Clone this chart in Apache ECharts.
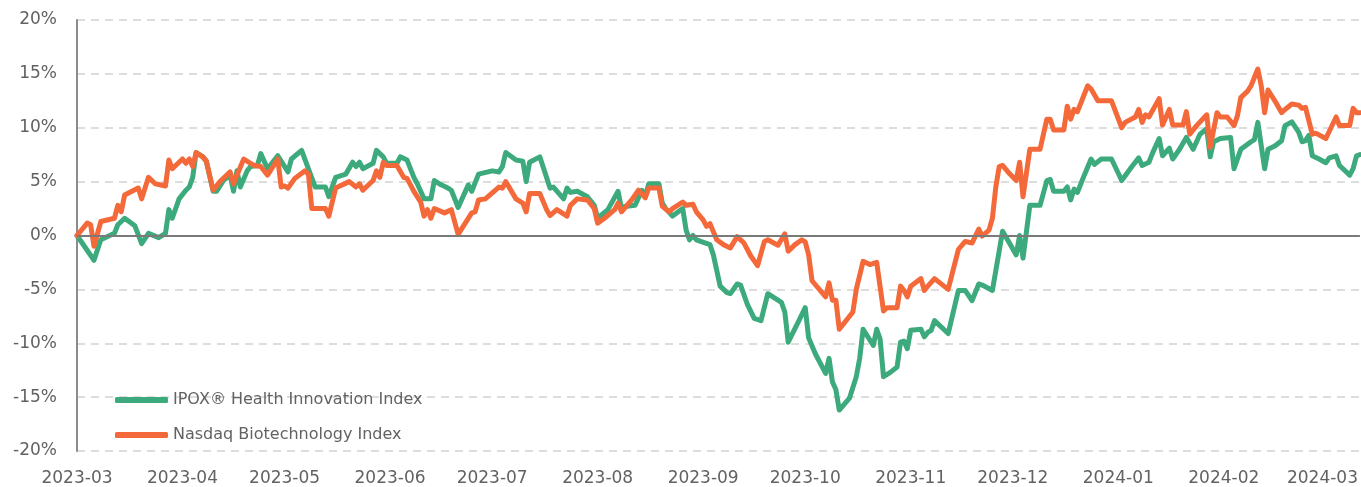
<!DOCTYPE html>
<html>
<head>
<meta charset="utf-8">
<script src="https://cdn.jsdelivr.net/npm/echarts@6/dist/echarts.min.js"></script>
<style>
  html, body { margin: 0; padding: 0; background: #fff; }
  #chart { width: 1361px; height: 487px; }
</style>
</head>
<body>
<div id="chart"></div>
<script>
// IPOX Health Innovation Index (percent change since 2023-03-01)
const ipoxDates = [
  '2023-03-01','2023-03-06','2023-03-08','2023-03-12','2023-03-13','2023-03-15','2023-03-18','2023-03-20','2023-03-22','2023-03-25',
  '2023-03-27','2023-03-28','2023-03-29','2023-03-31','2023-04-02','2023-04-03','2023-04-04','2023-04-05','2023-04-07','2023-04-08',
  '2023-04-10','2023-04-11','2023-04-13','2023-04-15','2023-04-16','2023-04-17','2023-04-18','2023-04-20','2023-04-21','2023-04-23',
  '2023-04-24','2023-04-26','2023-04-29','2023-05-02','2023-05-03','2023-05-06','2023-05-10','2023-05-13','2023-05-14','2023-05-16',
  '2023-05-19','2023-05-21','2023-05-22','2023-05-23','2023-05-24','2023-05-27','2023-05-28','2023-05-30','2023-05-31','2023-06-03',
  '2023-06-04','2023-06-06','2023-06-08','2023-06-09','2023-06-11','2023-06-13','2023-06-14','2023-06-16','2023-06-18','2023-06-19',
  '2023-06-21','2023-06-24','2023-06-25','2023-06-27','2023-07-01','2023-07-03','2023-07-04','2023-07-05','2023-07-08','2023-07-10',
  '2023-07-11','2023-07-12','2023-07-15','2023-07-18','2023-07-19','2023-07-22','2023-07-23','2023-07-24','2023-07-26','2023-07-29',
  '2023-07-31','2023-08-01','2023-08-04','2023-08-07','2023-08-08','2023-08-09','2023-08-12','2023-08-14','2023-08-15','2023-08-16',
  '2023-08-19','2023-08-20','2023-08-21','2023-08-23','2023-08-26','2023-08-27','2023-08-28','2023-08-29','2023-08-30','2023-09-03',
  '2023-09-04','2023-09-06','2023-09-08','2023-09-09','2023-09-11','2023-09-12','2023-09-14','2023-09-16','2023-09-18','2023-09-20',
  '2023-09-24','2023-09-25','2023-09-26','2023-09-29','2023-10-01','2023-10-02','2023-10-04','2023-10-07','2023-10-08','2023-10-09',
  '2023-10-10','2023-10-11','2023-10-14','2023-10-16','2023-10-17','2023-10-18','2023-10-21','2023-10-22','2023-10-23','2023-10-24',
  '2023-10-26','2023-10-28','2023-10-29','2023-10-30','2023-10-31','2023-11-01','2023-11-04','2023-11-05','2023-11-06','2023-11-07',
  '2023-11-08','2023-11-12','2023-11-15','2023-11-17','2023-11-19','2023-11-21','2023-11-22','2023-11-25','2023-11-28','2023-11-30',
  '2023-12-02','2023-12-03','2023-12-04','2023-12-06','2023-12-09','2023-12-11','2023-12-12','2023-12-13','2023-12-16','2023-12-17',
  '2023-12-18','2023-12-19','2023-12-20','2023-12-22','2023-12-24','2023-12-25','2023-12-27','2023-12-30','2024-01-02','2024-01-05',
  '2024-01-07','2024-01-08','2024-01-10','2024-01-11','2024-01-13','2024-01-14','2024-01-16','2024-01-17','2024-01-19','2024-01-21',
  '2024-01-23','2024-01-25','2024-01-27','2024-01-28','2024-01-29','2024-01-31','2024-02-03','2024-02-04','2024-02-06','2024-02-09',
  '2024-02-10','2024-02-11','2024-02-13','2024-02-14','2024-02-16','2024-02-18','2024-02-19','2024-02-21','2024-02-23','2024-02-24',
  '2024-02-25','2024-02-26','2024-02-27','2024-02-29','2024-03-02','2024-03-03','2024-03-05','2024-03-06','2024-03-09','2024-03-10',
  '2024-03-11','2024-03-12'
];
const ipoxValues = [
  0, -2.3, -0.4, 0.2, 1.0, 1.6, 0.9, -0.75, 0.2, -0.2,
  0.2, 2.4, 1.6, 3.4, 4.2, 4.5, 5.4, 7.7, 7.3, 6.9,
  4.1, 4.1, 5.1, 5.6, 4.1, 6.0, 4.5, 6.0, 6.4, 6.5,
  7.6, 6.2, 7.4, 5.9, 7.1, 7.9, 4.5, 4.5, 3.6, 5.4,
  5.7, 6.8, 6.4, 6.8, 6.2, 6.7, 7.9, 7.3, 6.7, 6.7,
  7.3, 7.0, 5.4, 4.8, 3.4, 3.4, 5.1, 4.7, 4.4, 4.2,
  2.6, 4.7, 4.1, 5.7, 6.0, 5.9, 6.4, 7.7, 7.0, 6.9,
  5.0, 6.8, 7.3, 4.4, 4.5, 3.4, 4.4, 4.0, 4.1, 3.6,
  2.8, 1.6, 2.4, 4.1, 2.5, 2.7, 2.8, 4.2, 3.6, 4.8,
  4.8, 3.0, 2.5, 1.8, 2.5, 0.5, -0.4, 0, -0.4, -0.85,
  -1.8, -4.7, -5.3, -5.4, -4.5, -4.6, -6.4, -7.7, -7.9, -5.4,
  -6.2, -7.1, -9.9, -8.0, -6.7, -9.5, -11.0, -12.8, -11.4, -13.6,
  -14.3, -16.2, -15.1, -13.1, -11.4, -8.7, -10.2, -8.7, -9.6, -13.1,
  -12.7, -12.2, -9.9, -9.8, -10.5, -8.8, -8.7, -9.4, -9.0, -8.8,
  -7.9, -9.1, -5.1, -5.1, -6.05, -4.5, -4.6, -5.1, 0.4, -0.7,
  -1.8, 0, -2.1, 2.8, 2.8, 5.1, 5.2, 4.1, 4.1, 4.5,
  3.3, 4.3, 4.0, 5.6, 7.1, 6.6, 7.1, 7.1, 5.1, 6.4,
  7.2, 6.5, 6.8, 7.6, 9.0, 7.4, 8.1, 7.1, 8.0, 9.1,
  8.0, 9.4, 9.9, 7.3, 8.7, 9.0, 9.1, 6.2, 8.0, 8.7,
  8.9, 10.5, 6.2, 8.0, 8.3, 8.8, 10.2, 10.55, 9.6, 8.7,
  8.8, 9.3, 7.4, 7.1, 6.75, 7.2, 7.4, 6.5, 5.6, 6.2,
  7.4, 7.5
];

// Nasdaq Biotechnology Index (percent change since 2023-03-01)
const nbiDates = [
  '2023-03-01','2023-03-04','2023-03-05','2023-03-06','2023-03-08','2023-03-12','2023-03-13','2023-03-14','2023-03-15','2023-03-19',
  '2023-03-20','2023-03-22','2023-03-24','2023-03-27','2023-03-28','2023-03-29','2023-04-01','2023-04-02','2023-04-03','2023-04-04',
  '2023-04-05','2023-04-07','2023-04-08','2023-04-10','2023-04-12','2023-04-15','2023-04-16','2023-04-17','2023-04-19','2023-04-21',
  '2023-04-22','2023-04-24','2023-04-26','2023-04-29','2023-04-30','2023-05-01','2023-05-02','2023-05-04','2023-05-07','2023-05-08',
  '2023-05-09','2023-05-13','2023-05-14','2023-05-16','2023-05-20','2023-05-22','2023-05-23','2023-05-24','2023-05-27','2023-05-28',
  '2023-05-29','2023-05-30','2023-05-31','2023-06-03','2023-06-05','2023-06-06','2023-06-08','2023-06-10','2023-06-11','2023-06-12',
  '2023-06-13','2023-06-14','2023-06-17','2023-06-19','2023-06-21','2023-06-25','2023-06-26','2023-06-27','2023-06-29','2023-07-03',
  '2023-07-04','2023-07-05','2023-07-08','2023-07-10','2023-07-11','2023-07-12','2023-07-15','2023-07-17','2023-07-18','2023-07-20',
  '2023-07-23','2023-07-24','2023-07-26','2023-07-29','2023-07-31','2023-08-01','2023-08-03','2023-08-06','2023-08-07','2023-08-08',
  '2023-08-11','2023-08-13','2023-08-15','2023-08-16','2023-08-19','2023-08-20','2023-08-22','2023-08-23','2023-08-26','2023-08-27',
  '2023-08-29','2023-08-30','2023-09-01','2023-09-02','2023-09-03','2023-09-05','2023-09-07','2023-09-09','2023-09-11','2023-09-13',
  '2023-09-15','2023-09-17','2023-09-19','2023-09-20','2023-09-23','2023-09-25','2023-09-26','2023-09-28','2023-09-30','2023-10-01',
  '2023-10-02','2023-10-03','2023-10-07','2023-10-08','2023-10-09','2023-10-10','2023-10-11','2023-10-15','2023-10-16','2023-10-18',
  '2023-10-20','2023-10-22','2023-10-24','2023-10-25','2023-10-28','2023-10-29','2023-10-30','2023-10-31','2023-11-01','2023-11-04',
  '2023-11-05','2023-11-06','2023-11-08','2023-11-12','2023-11-15','2023-11-17','2023-11-19','2023-11-21','2023-11-22','2023-11-24',
  '2023-11-25','2023-11-26','2023-11-27','2023-11-28','2023-11-30','2023-12-02','2023-12-03','2023-12-04','2023-12-06','2023-12-09',
  '2023-12-11','2023-12-12','2023-12-13','2023-12-16','2023-12-17','2023-12-18','2023-12-19','2023-12-20','2023-12-23','2023-12-24',
  '2023-12-26','2023-12-30','2024-01-02','2024-01-03','2024-01-06','2024-01-07','2024-01-08','2024-01-09','2024-01-10','2024-01-13',
  '2024-01-14','2024-01-16','2024-01-17','2024-01-20','2024-01-21','2024-01-22','2024-01-24','2024-01-27','2024-01-28','2024-01-30',
  '2024-01-31','2024-02-02','2024-02-04','2024-02-05','2024-02-06','2024-02-08','2024-02-09','2024-02-11','2024-02-12','2024-02-13',
  '2024-02-14','2024-02-16','2024-02-18','2024-02-19','2024-02-21','2024-02-23','2024-02-24','2024-02-25','2024-02-27','2024-02-28',
  '2024-03-02','2024-03-05','2024-03-06','2024-03-09','2024-03-10','2024-03-11','2024-03-12'
];
const nbiValues = [
  0, 1.15, 1.0, -1.0, 1.3, 1.6, 2.8, 2.2, 3.75, 4.4,
  3.4, 5.4, 4.8, 4.6, 7.0, 6.2, 7.1, 6.7, 7.1, 6.4,
  7.7, 7.3, 6.9, 4.2, 5.0, 5.9, 4.8, 5.6, 7.1, 6.7,
  6.5, 6.4, 5.6, 7.1, 4.5, 4.6, 4.4, 5.3, 6.0, 5.7,
  2.5, 2.5, 1.8, 4.4, 5.0, 4.5, 4.8, 4.2, 5.1, 6.0,
  5.4, 6.8, 6.5, 6.5, 5.4, 5.3, 4.1, 3.1, 1.8, 2.4,
  1.6, 2.5, 2.1, 2.4, 0.1, 2.1, 2.2, 3.3, 3.4, 4.5,
  4.4, 5.0, 3.4, 3.0, 2.2, 3.9, 3.9, 2.4, 1.85, 2.4,
  1.8, 2.8, 3.4, 3.3, 2.5, 1.15, 1.6, 2.4, 3.0, 2.2,
  3.3, 4.2, 3.5, 4.4, 4.4, 2.7, 2.2, 2.5, 3.1, 2.8,
  2.9, 2.2, 1.45, 0.85, 1.1, -0.4, -0.85, -1.15, -0.1, -0.7,
  -1.9, -2.8, -0.55, -0.4, -0.9, 0.15, -1.45, -0.85, -0.4, -0.6,
  -1.8, -4.2, -5.7, -4.4, -6.0, -6.0, -8.7, -7.1, -5.0, -2.4,
  -2.7, -2.5, -7.0, -6.7, -6.7, -4.7, -5.1, -5.7, -4.7, -4.0,
  -5.1, -4.7, -4.0, -5.0, -1.3, -0.55, -0.7, 0.6, -0.05, 0.5,
  1.6, 4.5, 6.4, 6.5, 5.75, 5.1, 6.8, 3.6, 8.0, 8.0,
  10.8, 10.8, 9.8, 9.8, 12.0, 10.8, 11.7, 11.5, 13.9, 13.6,
  12.5, 12.5, 10.0, 10.5, 11.0, 11.7, 10.5, 11.2, 11.0, 12.7,
  10.25, 11.7, 10.25, 10.25, 11.5, 9.4, 10.2, 11.2, 8.2, 11.4,
  11.0, 11.0, 10.2, 11.1, 12.8, 13.4, 13.9, 15.45, 13.9, 11.4,
  13.5, 12.5, 11.4, 11.7, 12.2, 12.1, 11.8, 11.9, 9.4, 9.5,
  9.0, 11.0, 10.2, 10.2, 11.8, 11.4, 11.4
];

const yTicks = [-20, -15, -10, -5, 0, 5, 10, 15, 20];
const seriesNames = ['IPOX\u00AE Health Innovation Index', 'Nasdaq Biotechnology Index'];

const FONT = 'DejaVu Sans';
const TEXT_COLOR = '#626262';
const pair = (dates, vals) => dates.map((d, i) => [d, vals[i]]);

const chart = echarts.init(document.getElementById('chart'), null, { renderer: 'canvas' });
chart.setOption({
  animation: false,
  backgroundColor: '#ffffff',
  grid: { left: 77, right: 0, top: 20, bottom: 32, containLabel: false },
  legend: {
    orient: 'vertical',
    left: 110,
    top: 385,
    data: seriesNames,
    icon: 'roundRect',
    itemWidth: 53,
    itemHeight: 6,
    itemGap: 15,
    textStyle: { fontFamily: FONT, fontSize: 16, color: TEXT_COLOR, lineHeight: 20 }
  },
  xAxis: {
    type: 'time',
    min: '2023-03-01',
    max: '2024-03-12',
    splitNumber: 12,
    maxInterval: 31 * 86400000,
    minInterval: 28 * 86400000,
    axisLine: { show: false },
    axisTick: { show: false },
    splitLine: { show: false },
    axisLabel: {
      formatter: '{yyyy}-{MM}',
      fontFamily: FONT,
      fontSize: 17,
      color: TEXT_COLOR,
      margin: 19,
      hideOverlap: false,
      showMaxLabel: false
    }
  },
  yAxis: {
    type: 'value',
    min: yTicks[0],
    max: yTicks[yTicks.length - 1],
    interval: 5,
    axisLine: { show: true, lineStyle: { color: '#8c8c8c', width: 2 } },
    axisTick: { show: false },
    axisLabel: {
      formatter: '{value}%',
      fontFamily: FONT,
      fontSize: 17,
      color: TEXT_COLOR,
      margin: 20
    },
    splitLine: { show: true, lineStyle: { color: '#dddddd', width: 2, type: [8, 6] } }
  },
  series: [
    {
      name: 'zero',
      type: 'line',
      data: [],
      z: 1,
      silent: true,
      markLine: {
        silent: true,
        symbol: 'none',
        label: { show: false },
        lineStyle: { color: '#7a7a7a', type: 'solid', width: 2 },
        data: [{ yAxis: 0 }]
      }
    },
    {
      name: seriesNames[0],
      type: 'line',
      data: pair(ipoxDates, ipoxValues),
      showSymbol: false,
      symbol: 'none',
      z: 3,
      color: '#3caa7c',
      lineStyle: { width: 5, color: '#3caa7c', cap: 'round', join: 'round' }
    },
    {
      name: seriesNames[1],
      type: 'line',
      data: pair(nbiDates, nbiValues),
      showSymbol: false,
      symbol: 'none',
      z: 4,
      color: '#f4693a',
      lineStyle: { width: 5, color: '#f4693a', cap: 'round', join: 'round' }
    }
  ]
});
</script>
</body>
</html>
